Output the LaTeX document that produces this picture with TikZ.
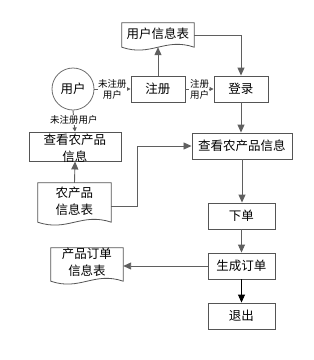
\documentclass[tikz,border=0pt]{standalone}
\usepackage{fontspec}
\setmainfont{Noto Sans CJK SC}
\usetikzlibrary{arrows.meta,calc}
\definecolor{lnc}{RGB}{95,95,95}
\definecolor{bdc}{RGB}{85,85,85}
\definecolor{cic}{RGB}{110,110,110}
\newcommand\docoutline[1]{%
  \draw[docline] (#1.north west) -- (#1.north east) -- (#1.south east)
    .. controls ($(#1.south east)!0.4!(#1.south west)+(0,-10)$) and ($(#1.south east)!0.6!(#1.south west)+(0,10)$) .. (#1.south west) -- cycle;}
\begin{document}
\begin{tikzpicture}[x=1pt,y=-1pt,
  box/.style={draw=bdc,line width=0.9pt,fill=white,inner sep=0pt,font=\fontsize{12.5}{17}\selectfont,align=center},
  docrect/.style={inner sep=0pt,draw=none},
  docline/.style={draw=bdc,line width=0.8pt,fill=white},
  txt/.style={inner sep=0pt,font=\fontsize{12.5}{17}\selectfont,align=center},
  lab/.style={inner sep=0.5pt,fill=white,font=\fontsize{9.5}{11}\selectfont,align=center},
  conn/.style={draw=lnc,line width=0.9pt,-{Triangle[length=8pt,width=7pt]}},
  sconn/.style={draw=lnc,line width=0.9pt,-{Triangle[length=4pt,width=4pt]}}]
\useasboundingbox (0,0) rectangle (314,360);
% circle
\node[circle,draw=cic,line width=0.8pt,minimum size=42pt,inner sep=0pt,font=\fontsize{12.5}{15}\selectfont] (yh) at (73,89) {用户};
% boxes
\node[box,minimum width=54pt,minimum height=26pt] (zc) at (158,89) {注册};
\node[box,minimum width=54pt,minimum height=26pt] (dl) at (241,89) {登录};
\node[box,minimum width=100pt,minimum height=26pt] (rv) at (242,146) {查看农产品信息};
\node[box,minimum width=67pt,minimum height=26pt] (xd) at (241.5,216) {下单};
\node[box,minimum width=67pt,minimum height=26pt] (sc) at (241.5,266) {生成订单};
\node[box,minimum width=67pt,minimum height=26pt] (tc) at (241.5,316) {退出};
\node[box,minimum width=92pt,minimum height=29pt] (lv) at (75,146.5) {};
\node[txt] (lvt) at (75,148.5) {查看农产品\\信息};
% documents
\node[docrect,minimum width=72pt,minimum height=24pt] (ut) at (158,35) {};
\docoutline{ut}
\node[txt] (utt) at (158,33.5) {用户信息表};
\node[docrect,minimum width=73pt,minimum height=39pt] (ns) at (74.5,202.5) {};
\docoutline{ns}
\node[txt] (nst) at (74.5,201.5) {农产品\\信息表};
\node[docrect,minimum width=72pt,minimum height=33pt] (po) at (87,264.5) {};
\docoutline{po}
\node[txt] (pot) at (87,262.5) {产品订单\\信息表};
% connectors
\draw[conn] (zc.north) -- (ut.south);
\draw[conn] (ut.east) -| (dl.north);
\draw[conn] (dl.south) -- (dl.south |- rv.north);
\coordinate (nsr) at (111,206);
\coordinate (bend) at (137,206);
\draw[conn] (nsr) -- (bend) |- (rv.west);
\draw[conn] (ns.north) -- (lv.south);
\draw[conn] (rv.south) -- (rv.south |- xd.north);
\draw[conn] (xd.south) -- (sc.north);
\draw[draw=black,line width=0.9pt,-{Triangle[length=8pt,width=7pt]}] (sc.south) -- (tc.north);
\draw[conn] (sc.west) -- (sc.west -| po.east);
\draw[sconn] (yh.east) -- node[lab] (l1) {未注册\\用户} (zc.west);
\draw[sconn] (zc.east) -- node[lab] (l2) {注册\\用户} (dl.west);
\draw[sconn] (yh.south) -- node[lab,pos=0.45] (l3) {未注册用户} (lv.north);
\end{tikzpicture}
\end{document}
